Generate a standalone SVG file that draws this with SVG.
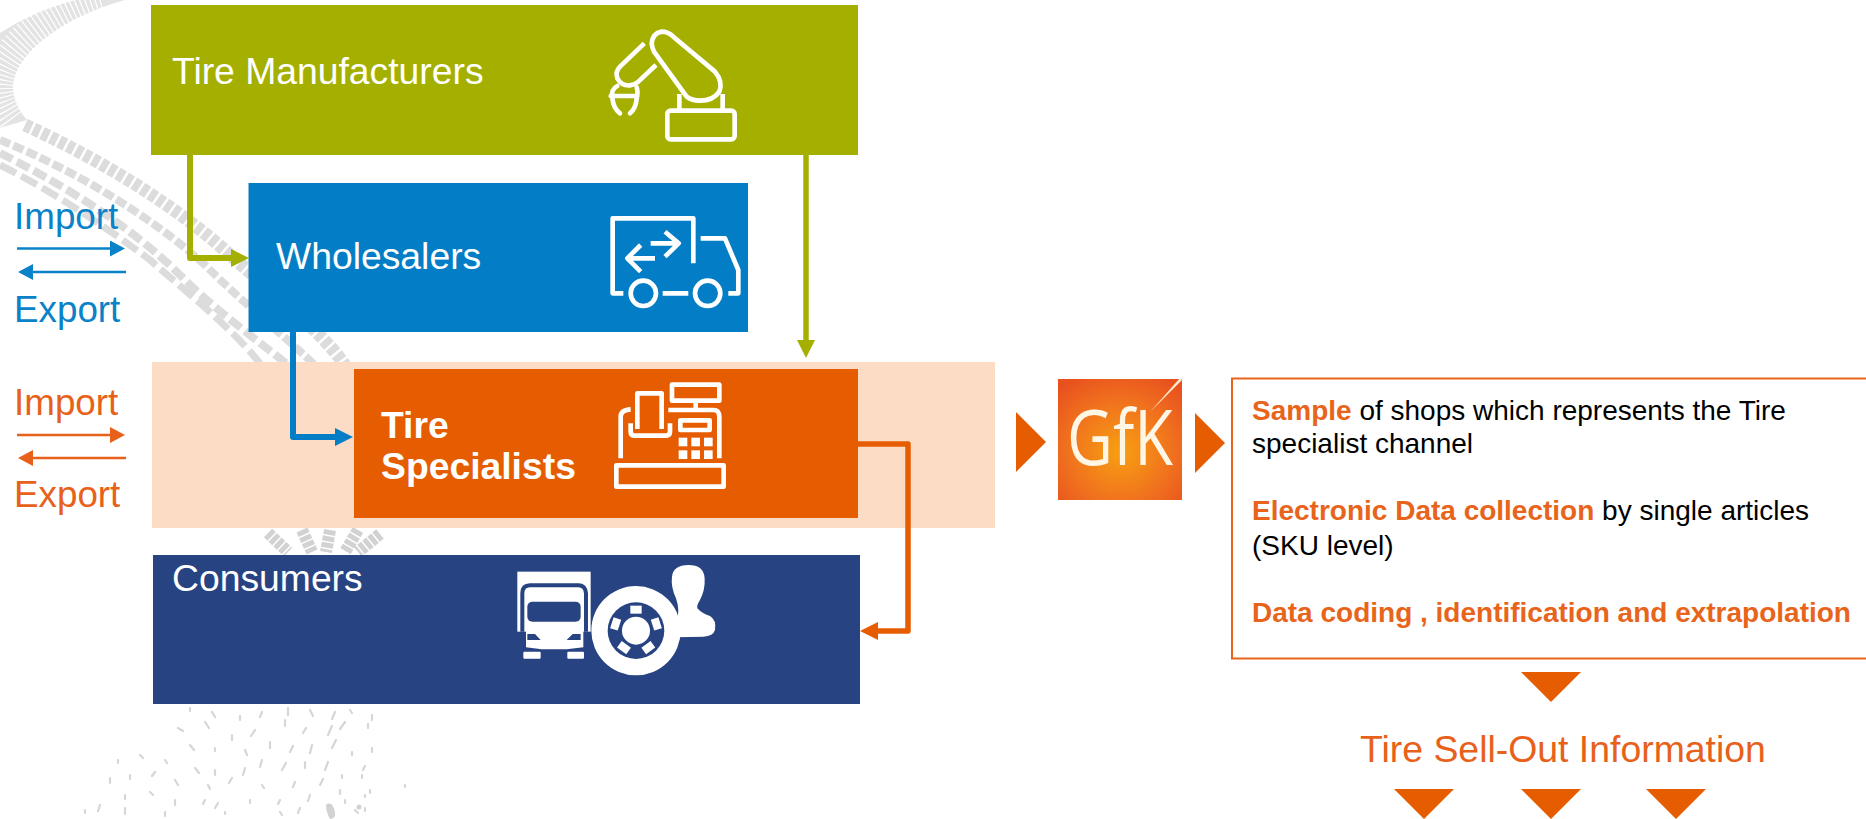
<svg xmlns="http://www.w3.org/2000/svg" width="1866" height="819" viewBox="0 0 1866 819">
<style>
text{font-family:"Liberation Sans",Arial,sans-serif}
.w{fill:#fff}.t{font-size:37.3px}.b{font-weight:bold}
.lb{fill:#0A82C8;font-size:36.8px}.lo{fill:#E8611A;font-size:36.8px}
.body{font-size:28px;fill:#000}.hl{font-weight:bold;fill:#E8641B}
.ic{fill:none;stroke:#fff;stroke-width:14;stroke-linecap:butt;stroke-linejoin:round}
.tri{fill:#E65C00}
.c{fill:none;stroke-linejoin:round}
</style>
<defs>
<radialGradient id="gfk" cx="50%" cy="60%" r="72%"><stop offset="0" stop-color="#F7A012"/><stop offset=".6" stop-color="#F0701E"/><stop offset="1" stop-color="#E8501E"/></radialGradient>
<marker id="hO" markerUnits="userSpaceOnUse" markerWidth="18" markerHeight="20" refX="0" refY="10" orient="auto"><path d="M0 1L18 10L0 19Z" fill="#A5AF00"/></marker>
<marker id="hB" markerUnits="userSpaceOnUse" markerWidth="18" markerHeight="20" refX="0" refY="10" orient="auto"><path d="M0 1L18 10L0 19Z" fill="#037EC6"/></marker>
<marker id="hR" markerUnits="userSpaceOnUse" markerWidth="18" markerHeight="20" refX="0" refY="10" orient="auto"><path d="M0 1L18 10L0 19Z" fill="#E65C00"/></marker>
<marker id="sB" markerUnits="userSpaceOnUse" markerWidth="16" markerHeight="16" refX="0" refY="8" orient="auto"><path d="M0 0L15 8L0 16Z" fill="#0A82C8"/></marker>
<marker id="sR" markerUnits="userSpaceOnUse" markerWidth="16" markerHeight="16" refX="0" refY="8" orient="auto"><path d="M0 0L15 8L0 16Z" fill="#E8611A"/></marker>
</defs>
<g id="background" fill="none" stroke="#e0e0e0">
<path d="M125 0C70 15 15 50 13 87C13 100 20 112 27 120L0 128V33C20 20 45 8 75 0Z" fill="#e3e3e3" stroke="none"/>
<path d="M100 -2C50 12 -2 50 -2 88C-2 100 4 112 12 122" stroke="#fff" stroke-width="32" stroke-dasharray="1.300 3.500"/>
<path d="M25 125C90 155 170 200 230 255C270 290 320 330 345 365" stroke-width="13" stroke-dasharray="7 2.500" stroke="#dcdcdc"/>
<path d="M0 140C70 168 150 215 205 265C245 305 290 340 325 375" stroke-width="8" stroke-dasharray="11 3.500" stroke="#dcdcdc"/>
<path d="M0 153C60 183 130 225 180 275C220 315 265 345 300 375" stroke-width="8" stroke-dasharray="14 5" stroke="#dcdcdc"/>
<path d="M0 165C40 185 90 215 150 260C190 295 240 335 265 370" stroke-width="7" stroke-dasharray="18 6" stroke="#dcdcdc"/>
<path d="M268 533L288 552M302 530L312 552M330 530L326 552M358 530L345 552M380 534L358 552" stroke-width="12" stroke="#d2d2d2" stroke-dasharray="5 1.500"/>
<path stroke="#d6d6d6" stroke-width="2.200" stroke-linecap="round" d="M190 708v3M212 712l3 5M240 716v4M262 712l-2 5M288 708v7M310 710l3 6M335 712l-3 7M350 710l2 3M372 715v5M178 728l5 3M205 722l4 6M232 735v5M255 730l-4 6M285 720v6M306 728l-3 5M328 735l4-9M345 722l-5 7M368 724v4M190 745l4 5M215 748v3M245 750l2 5M270 742v6M290 752l3-6M312 745l-2 8M332 748l4-8M352 752v3M372 748v4M118 760v3M140 755l3 3M165 760l2 3M195 768l4 5M215 770v5M245 768l-2 7M262 760l-2 7M282 770l4-7M305 762v6M325 770l3-8M342 775v3M365 766l-2 4M110 778v5M130 775v4M155 772l-3 4M175 780l3 5M208 785l2 4M232 778l-3 5M262 785l2 3M295 782l-2 5M320 785l3-6M340 790v4M362 775v3M370 790v3M125 795v4M150 792l3 3M175 800v5M205 800l-2 4M215 808l3-5M250 800v3M280 800l-2 4M310 795l-2 6M345 800v3M365 808v3M85 810v3M100 805l-2 6M125 808v6M165 812v4M225 812v2M280 812l2 3M300 808l-2 5M355 810l3 3M365 795v2M405 785v2"/>
<path d="M326 805Q332 800 335 812Q336 819 330 819Q326 812 326 805Z" fill="#d2d2d2" stroke="none"/>
<circle cx="359" cy="807" r="2.500" fill="#d2d2d2" stroke="none"/>
</g>
<g id="orange-band"><rect x="152" y="362" width="843" height="166" fill="#FDDCC6"/></g>
<g id="manufacturers">
<rect x="151" y="5" width="707" height="150" fill="#A5AF00"/>
<text class="w t" x="172" y="84">Tire Manufacturers</text>
<g transform="translate(580 10) scale(.3333)" class="ic">
<path d="M215 100Q218 70 245 65Q265 65 280 80L405 185Q430 215 418 245Q400 272 360 272Q335 272 320 260L222 125Q216 112 215 100Z"/>
<path d="M193 100L120 170Q105 185 112 205Q125 228 150 226Q165 224 175 215L228 165"/>
<path d="M112 228Q92 238 97 265Q100 295 120 310M170 232Q175 245 170 265Q168 295 150 310M92 258H172" stroke-linecap="round"/>
<rect x="262" y="302" width="202" height="86" rx="10"/>
<path d="M298 252V302M428 252V302"/>
</g>
</g>
<g id="wholesalers">
<rect x="248.500" y="183" width="499.500" height="149" fill="#037EC6"/>
<text class="w t" x="276" y="269">Wholesalers</text>
<g transform="translate(590 200) scale(.3333)" class="ic">
<path d="M100 280H68V55H310V190M332 115H405L445 210V280H415M218 280H295"/>
<circle cx="160" cy="280" r="38"/><circle cx="353" cy="280" r="38"/>
<path d="M182 130H265M225 95L266 130L225 170M195 175H115M152 135L112 175L152 215"/>
</g>
</g>
<g id="specialists">
<rect x="354" y="369" width="504" height="149" fill="#E65C00"/>
<text class="w t b" x="381" y="438">Tire</text>
<text class="w t b" x="381" y="479">Specialists</text>
<g transform="translate(600 375) scale(.3333)" class="ic">
<rect x="216" y="29" width="142" height="48"/>
<path d="M287 78V104M62 250V125Q62 105 92 103M205 105H340Q358 105 358 125V250M112 162V55H185V162M92 145V170Q92 182 105 182H195Q210 182 210 170V145"/>
<rect x="241" y="136" width="88" height="29"/>
<rect x="49" y="271" width="322" height="64"/>
<g fill="#fff" stroke="none"><rect x="236" y="188" width="26" height="26"/><rect x="274" y="188" width="26" height="26"/><rect x="312" y="188" width="26" height="26"/><rect x="236" y="226" width="26" height="26"/><rect x="274" y="226" width="26" height="26"/><rect x="312" y="226" width="26" height="26"/></g>
</g>
</g>
<g id="consumers">
<rect x="153" y="555" width="707" height="149" fill="#274382"/>
<text class="w t" x="172" y="591">Consumers</text>
<g transform="translate(500 560) scale(.3333)">
<rect x="52" y="35" width="220" height="180" fill="#fff"/>
<path d="M67 215V100Q67 76 90 76H235Q256 76 258 100V215" fill="none" stroke="#274382" stroke-width="12"/>
<path d="M52 216H272V300H52Z" fill="#274382"/>
<path d="M78 210V262L125 268H200L250 262V210Z" fill="#fff"/>
<rect x="82" y="125" width="160" height="60" rx="15" fill="#274382"/>
<path d="M82 222H105L122 240H82ZM242 222H218L200 240H242Z" fill="#274382"/>
<rect x="70" y="275" width="52" height="21" rx="3" fill="#fff"/><rect x="202" y="275" width="50" height="21" rx="3" fill="#fff"/>
<path d="M516 50Q520 15 565 15Q612 15 614 55Q616 90 600 120Q590 135 592 145Q605 160 630 168Q650 180 645 210Q640 228 610 230L530 232L535 150Q535 135 528 115Q512 80 516 50Z" fill="#fff"/>
<circle cx="408" cy="212" r="134" fill="#fff"/>
<circle cx="408" cy="212" r="85" fill="#274382"/>
<circle cx="408" cy="212" r="42" fill="#fff"/>
<g fill="#fff"><rect x="391" y="137" width="34" height="24"/><rect x="-17" y="-12" width="34" height="24" transform="translate(347 192) rotate(-72)"/><rect x="-17" y="-12" width="34" height="24" transform="translate(372 263) rotate(36)"/><rect x="-17" y="-12" width="34" height="24" transform="translate(445 263) rotate(-36)"/><rect x="-17" y="-12" width="34" height="24" transform="translate(469 192) rotate(72)"/></g>
</g>
</g>
<g id="connectors">
<path class="c" d="M190 155V258H231" stroke="#A5AF00" stroke-width="6" marker-end="url(#hO)"/>
<path class="c" d="M806 155V340" stroke="#A5AF00" stroke-width="5.500" marker-end="url(#hO)"/>
<path class="c" d="M293 332V437H335" stroke="#037EC6" stroke-width="6" marker-end="url(#hB)"/>
<path class="c" d="M858 444H908V631H878" stroke="#E65C00" stroke-width="5.500" marker-end="url(#hR)"/>
<path class="c" d="M17 248.500H110" stroke="#0A82C8" stroke-width="2.500" marker-end="url(#sB)"/>
<path class="c" d="M126 272H33" stroke="#0A82C8" stroke-width="2.500" marker-end="url(#sB)"/>
<path class="c" d="M17 435H110" stroke="#E8611A" stroke-width="2.500" marker-end="url(#sR)"/>
<path class="c" d="M126 458H33" stroke="#E8611A" stroke-width="2.500" marker-end="url(#sR)"/>
</g>
<g id="flow-legend">
<text class="lb" x="14" y="229">Import</text>
<text class="lb" x="14" y="322">Export</text>
<text class="lo" x="14" y="415">Import</text>
<text class="lo" x="14" y="507">Export</text>
</g>
<g id="gfk-logo">
<rect x="1058" y="379" width="124" height="121" fill="url(#gfk)"/>
<path d="M1182 380L1150 412L1180 378Z" fill="#FFE9D0"/>
<text x="1120" y="465" text-anchor="middle" textLength="106" lengthAdjust="spacingAndGlyphs" font-size="77" fill="#FFF6E6" style="font-family:'Open Sans',sans-serif;font-weight:400">GfK</text>
</g>
<g id="flow-triangles">
<path class="tri" d="M1016 412L1046 442L1016 472Z"/>
<path class="tri" d="M1195 413L1225 443L1195 473Z"/>
<path class="tri" d="M1521 672H1581L1551 702Z"/>
<path class="tri" d="M1394 789H1454L1424 819Z"/>
<path class="tri" d="M1521 789H1581L1551 819Z"/>
<path class="tri" d="M1646 789H1706L1676 819Z"/>
</g>
<g id="info-box">
<rect x="1232" y="378.500" width="640" height="280" fill="#fff" stroke="#E8641B" stroke-width="2"/>
<text class="body" x="1252" y="420"><tspan class="hl">Sample</tspan> of shops which represents the Tire</text>
<text class="body" x="1252" y="453">specialist channel</text>
<text class="body" x="1252" y="520"><tspan class="hl">Electronic Data collection</tspan> by single articles</text>
<text class="body" x="1252" y="555">(SKU level)</text>
<text class="body hl" x="1252" y="622">Data coding , identification and extrapolation</text>
</g>
<g id="output"><text x="1360" y="762" font-size="37.400" fill="#E8611A">Tire Sell-Out Information</text></g>
</svg>
